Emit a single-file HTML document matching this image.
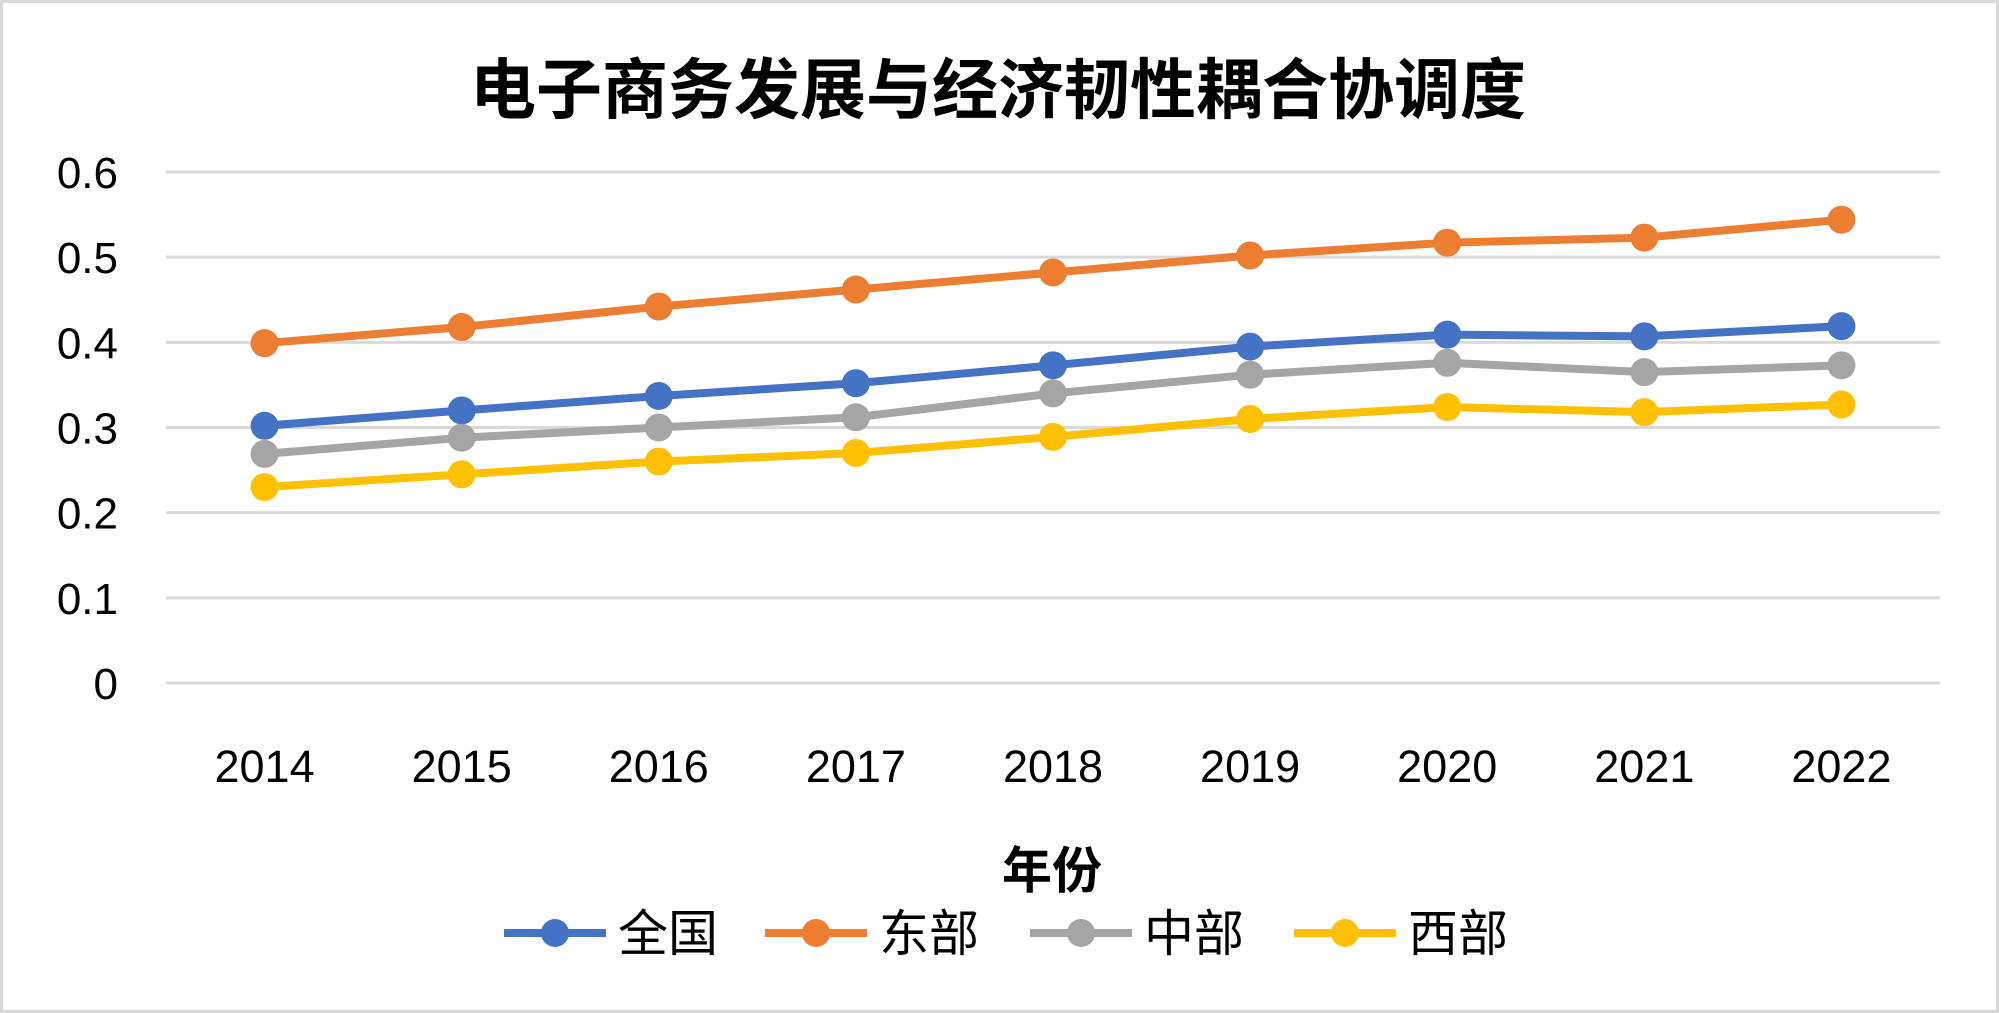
<!DOCTYPE html>
<html><head><meta charset="utf-8"><style>
html,body{margin:0;padding:0;background:#fff;}
svg{display:block;font-family:"Liberation Sans","Noto Sans CJK SC",sans-serif;}
</style></head><body>
<svg id="chart" width="1999" height="1013" viewBox="0 0 1999 1013">
<rect x="1.5" y="1.5" width="1996" height="1010" fill="#fff" stroke="#d9d9d9" stroke-width="3"/>
<text x="998" y="113" text-anchor="middle" font-size="66" font-weight="bold" fill="#000">电子商务发展与经济韧性耦合协调度</text>
<g id="grid"></g><g id="ylabels"></g><g id="xlabels"></g><g id="series"></g>
<text x="1052" y="888" text-anchor="middle" font-size="50" font-weight="bold" fill="#000">年份</text>
<g id="legend"></g>
</svg>
<script>
const years=["2014","2015","2016","2017","2018","2019","2020","2021","2022"];
const yTicks=[0,0.1,0.2,0.3,0.4,0.5,0.6];
const yTickLabels=["0","0.1","0.2","0.3","0.4","0.5","0.6"];
const seriesNames=["全国","东部","中部","西部"];
const quanguo=[0.302,0.320,0.337,0.352,0.373,0.395,0.409,0.407,0.419];
const dongbu=[0.399,0.418,0.442,0.462,0.482,0.502,0.517,0.523,0.544];
const zhongbu=[0.269,0.288,0.300,0.312,0.340,0.362,0.376,0.365,0.373];
const xibu=[0.230,0.245,0.260,0.270,0.289,0.310,0.324,0.318,0.327];
const colors=["#4472C4","#ED7D31","#A5A5A5","#FFC000"];
const NS="http://www.w3.org/2000/svg";
const X0=166,X1=1940,Y0=683,Y1=172;
const x=i=>X0+(X1-X0)*(i+0.5)/years.length;
const y=v=>Y0-(Y0-Y1)*v/0.6;
function mk(t,a,p){const e=document.createElementNS(NS,t);for(const k in a)e.setAttribute(k,a[k]);p.appendChild(e);return e;}
const grid=document.getElementById('grid'),yl=document.getElementById('ylabels'),xl=document.getElementById('xlabels');
yTicks.forEach((v,i)=>{
 const l=mk('line',{x1:X0,x2:X1,y1:y(v),y2:y(v),stroke:'#d9d9d9','stroke-width':3},grid);
 
 
 const t=mk('text',{x:118,y:y(v)+16,'text-anchor':'end','font-size':44,fill:'#000'},yl);
 t.textContent=yTickLabels[i];
 
 
});
years.forEach((yr,i)=>{
 const t=mk('text',{x:x(i),y:782,'text-anchor':'middle','font-size':45,fill:'#000'},xl);
 t.textContent=yr;
 
 
});
const sg=document.getElementById('series');
[quanguo,dongbu,zhongbu,xibu].forEach((d,s)=>{
 const g=mk('g',{},sg);
 
 
 const p=mk('polyline',{points:d.map((v,i)=>x(i)+','+y(v)).join(' '),fill:'none',stroke:colors[s],'stroke-width':8,'stroke-linejoin':'round'},g);
 
 
 d.forEach((v,i)=>{
  const c=mk('circle',{cx:x(i),cy:y(v),r:14,fill:colors[s]},g);
  
  
 });
});
const lg=document.getElementById('legend');
const lx=[504,765,1030,1294];
seriesNames.forEach((n,s)=>{
 const g=mk('g',{},lg);
 
 
 mk('line',{x1:lx[s],x2:lx[s]+102,y1:933,y2:933,stroke:colors[s],'stroke-width':8},g);
 mk('circle',{cx:lx[s]+51,cy:933,r:14,fill:colors[s]},g);
 const t=mk('text',{x:lx[s]+114,y:951,'font-size':50,fill:'#000'},g);
 t.textContent=n;
});
</script>
</body></html>
